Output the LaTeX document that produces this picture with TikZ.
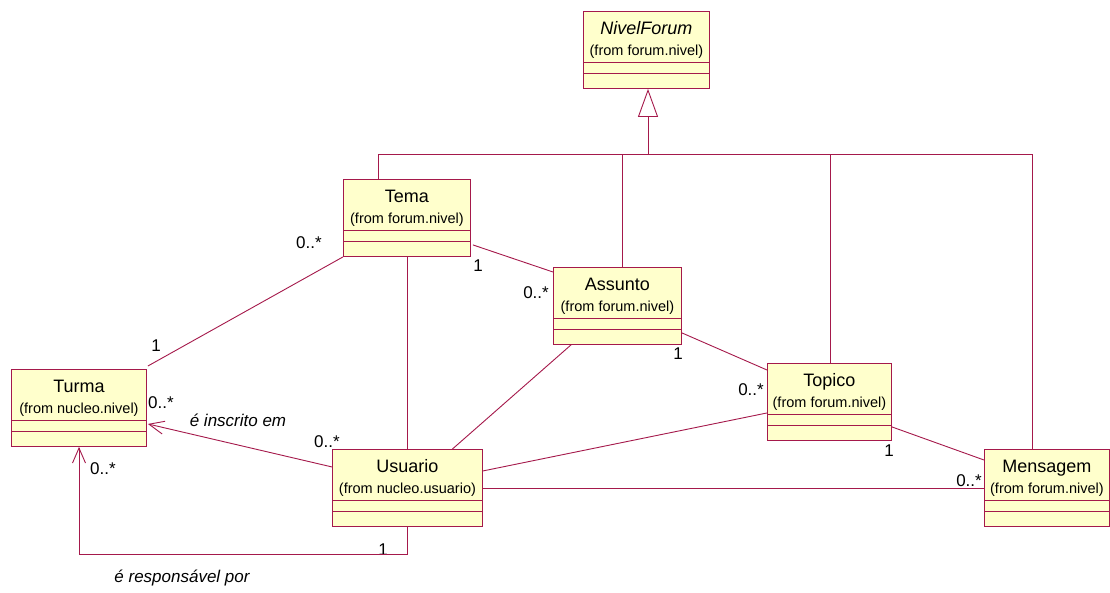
\documentclass[tikz,border=0pt]{standalone}
\usepackage{fontspec}
\setmainfont{Liberation Sans}
\usetikzlibrary{calc,arrows.meta}
\definecolor{umlline}{RGB}{165,25,75}
\definecolor{umlfill}{RGB}{255,255,204}
\tikzset{
  classbox/.style={draw=umlline,fill=umlfill,line width=0.9pt,inner sep=0pt,
    minimum height=77pt,anchor=north west},
  classtitle/.style={anchor=base,inner sep=0pt,font=\fontsize{18}{20}\selectfont},
  classsub/.style={anchor=base,inner sep=0pt,font=\fontsize{14.5}{16}\selectfont},
  assoc/.style={draw=umlline,line width=0.9pt},
  navarrow/.style={assoc,-{Straight Barb[length=15pt,width=13pt,line width=0.9pt]}},
  generalize/.style={assoc,-{Triangle[open,length=28pt,width=20pt,line width=0.9pt,fill=white]}},
  mult/.style={inner sep=0pt,font=\fontsize{17}{19}\selectfont},
  rolename/.style={inner sep=0pt,font=\fontsize{17}{19}\selectfont\itshape},
}
% class box: name, x, y, width, title, package
\newcommand{\umlclass}[6]{%
  \node[classbox,minimum width=#4pt] (#1) at (#2,#3) {};
  \draw[assoc] ($(#1.north west)+(0,51)$) -- ($(#1.north east)+(0,51)$);
  \draw[assoc] ($(#1.north west)+(0,62)$) -- ($(#1.north east)+(0,62)$);
  \node[classtitle] (#1-title) at ($(#1.north)+(0,23)$) {#5};
  \node[classsub] (#1-pkg) at ($(#1.north)+(0,44)$) {#6};
}
\begin{document}
\begin{tikzpicture}[x=1pt,y=-1pt]
\fill[white] (0,0) rectangle (1110,592);
\useasboundingbox (0,0) rectangle (1110,592);

\umlclass{nivel}{583}{11}{126}{\itshape NivelForum}{(from forum.nivel)}
\umlclass{tema}{343}{179}{127}{Tema}{(from forum.nivel)}
\umlclass{assunto}{553}{267}{128}{Assunto}{(from forum.nivel)}
\umlclass{topico}{767}{363}{124}{Topico}{(from forum.nivel)}
\umlclass{mensagem}{984}{449}{125}{Mensagem}{(from forum.nivel)}
\umlclass{turma}{11}{369}{135}{Turma}{(from nucleo.nivel)}
\umlclass{usuario}{332}{449}{150}{Usuario}{(from nucleo.usuario)}

% generalization tree
\coordinate (bus) at (648,154);
\draw[generalize] (bus) -- (bus |- nivel.south);
\draw[assoc] ($(tema.north west)+(35,0)$) |- (bus);
\draw[assoc] (bus) -| ($(mensagem.north west)+(48,0)$);
\draw[assoc] ($(assunto.north)+(5,0)$) |- (bus);
\draw[assoc] ($(topico.north)+(1,0)$) |- (bus);

% associations
\draw[assoc] (tema.south west) -- ($(turma.north east)+(1,-3)$);
\draw[assoc] (tema.south) -- (tema.south |- usuario.north);
\draw[assoc] ($(tema.south east)+(2,-12)$) -- ($(assunto.north west)+(0,5)$);
\draw[assoc] ($(assunto.south west)+(18,0)$) -- ($(usuario.north)+(45,0)$);
\draw[assoc] ($(assunto.south east)+(0,-12)$) -- ($(topico.north west)+(0,7)$);
\draw[assoc] ($(topico.west)+(0,11)$) -- ($(usuario.east)+(0,-17)$);
\draw[assoc] ($(topico.south east)+(0,-14)$) -- ($(mensagem.north west)+(0,11)$);

% multiplicities
\node[mult] (m1) at (309,243) {0..*};
\node[mult] (m2) at (156,346) {1};
\node[mult] (m3) at (478,266) {1};
\node[mult] (m4) at (536,293) {0..*};
\node[mult] (m5) at (678,354) {1};
\node[mult] (m6) at (751,390) {0..*};
\node[mult] (m7) at (889,451) {1};
\node[mult] (m8) at (969,481) {0..*};
\node[mult] (m9) at (161,403) {0..*};
\node[mult] (m10) at (327,442) {0..*};
\node[mult] (m11) at (103,469) {0..*};
\node[mult] (m12) at (383,550) {1};

\draw[assoc] (usuario.east) -- (mensagem.west);

% navigable associations towards Turma
\draw[navarrow] ($(usuario.west)+(0,-21)$) -- ($(turma.east)+(1,16)$);
\coordinate (corner) at (79,554);
\draw[navarrow] (usuario.south) |- (corner) -- ($(turma.south west)+(68,0)$);

% role names
\node[rolename] (r1) at (238,420) {é inscrito em};
\node[rolename] (r2) at (182,578) {é responsável por};
\end{tikzpicture}
\end{document}
